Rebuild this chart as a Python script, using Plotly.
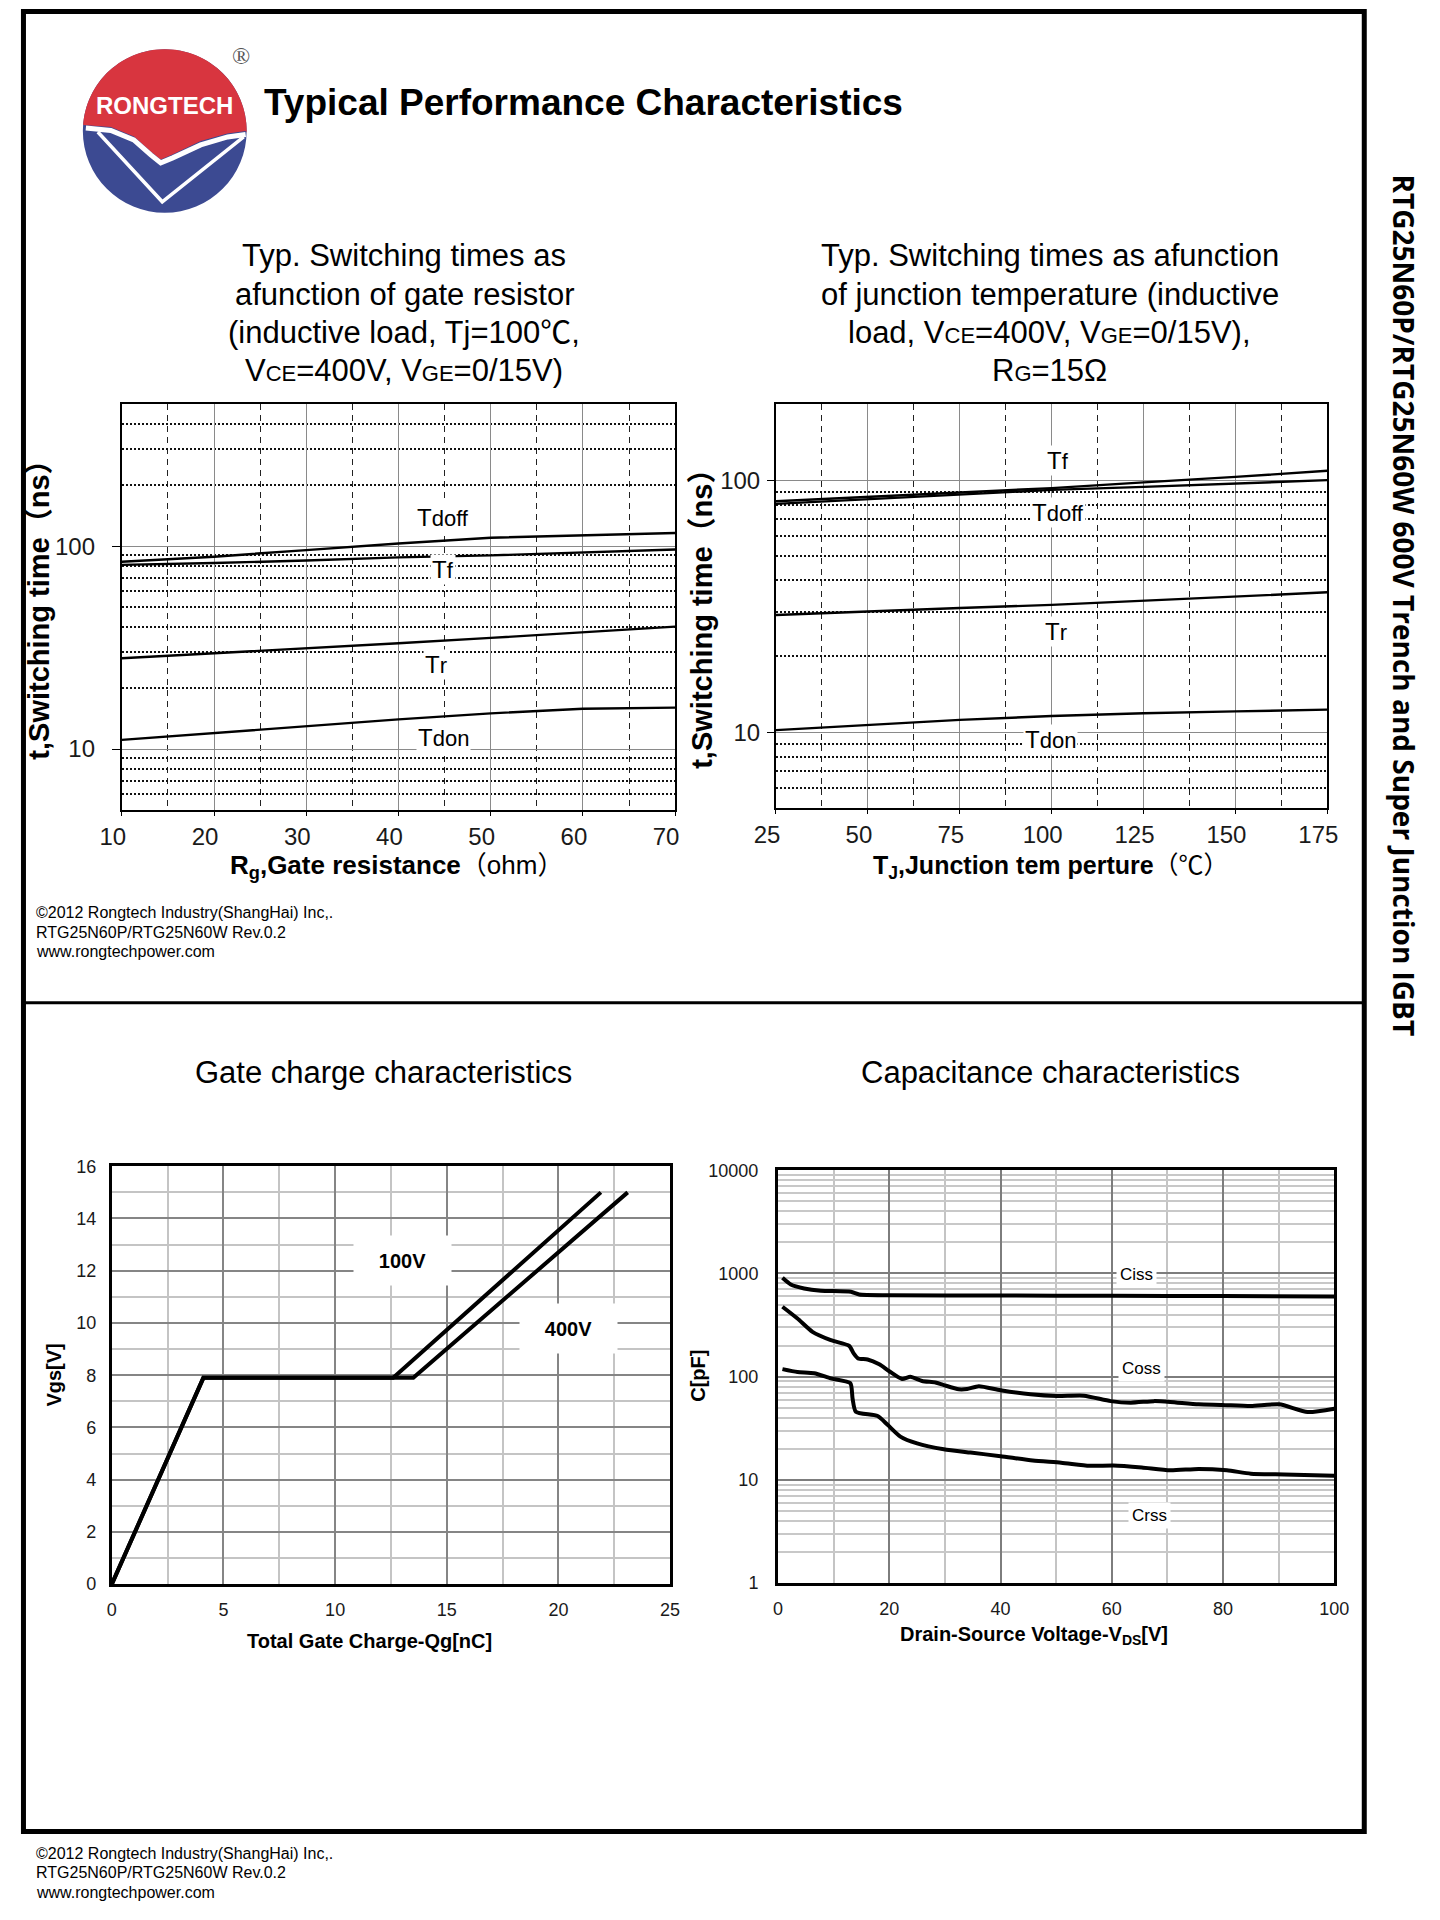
import numpy as np
import plotly.graph_objects as go

W, H = 1440, 1920
# measured mapping between this page and its photograph: compensate it
SX, OX = 1.0251, -21.6
SY, OY = 1.0079, -8.8
FONT = "Liberation Sans, Arial, Noto Sans CJK SC, sans-serif"

# ---------------- data ----------------
# Chart 1: switching times vs gate resistor
rg = [10, 20, 30, 40, 50, 60, 70]
tdoff_rg = [83.8, 88.7, 95.6, 103, 110, 113, 116]
tf_rg = [80.8, 82.5, 85, 88, 90, 93, 96.3]
tr_rg = [28.0, 29.6, 31.3, 33.2, 35.3, 37.6, 40.1]
tdon_rg = [11.1, 12.0, 13.0, 14.0, 15.0, 15.8, 16.0]
rg_ticks = [10, 20, 30, 40, 50, 60, 70]

# Chart 2: switching times vs junction temperature
tj = [25, 50, 75, 100, 125, 150, 175]
tf_tj = [82.5, 86, 89.5, 93, 98, 103, 109]
tdoff_tj = [80.5, 84, 88, 91.5, 94, 97, 100]
tr_tj = [29.2, 30.2, 31.1, 32.0, 33.2, 34.5, 35.9]
tdon_tj = [10.2, 10.7, 11.2, 11.6, 11.9, 12.1, 12.3]
tj_ticks = [25, 50, 75, 100, 125, 150, 175]

# Chart 3: gate charge
qg_100 = [0, 4.1, 12.6, 21.9]
vgs_100 = [0, 7.9, 7.9, 15.0]
qg_400 = [0, 4.1, 13.5, 23.1]
vgs_400 = [0, 7.9, 7.9, 15.0]

# Chart 4: capacitance
vds_ciss = [0.8, 2.3, 4.7, 7.7, 13.1, 14.6, 20, 40, 60, 80, 100]
ciss = [908, 782, 716, 680, 665, 626, 616, 612, 608, 604, 600]
vds_coss = [0.8, 3.5, 6.2, 9.5, 12.8, 13.6, 14.4, 16.1, 18.2, 20, 22.3, 23.8, 25.9, 28.3,
            29.8, 32.5, 34, 36.1, 40, 45.4, 50.2, 55, 59.8, 63.4, 67.6, 70.5, 75.6, 79.8,
            85, 90.1, 95.2, 100]
coss = [476, 366, 272, 226, 199, 168, 150, 147, 132, 113, 95, 100, 91, 88, 83, 75.5, 76, 81,
        74, 67.5, 65, 65.5, 58, 56, 58, 57, 54, 53.3, 52, 54, 45.5, 49]
vds_crss = [0.8, 3.5, 6.5, 9.5, 13, 13.4, 14, 17.9, 19.7, 22, 25, 29.8, 34.6, 40, 45.8, 50.9,
            56, 60.3, 65.4, 70.5, 75.6, 80.7, 85, 91, 100]
crss = [118.5, 111, 108, 96.4, 86.5, 61.7, 45.7, 41.6, 34.2, 26.3, 22.6, 19.8, 18.4, 17.0,
        15.4, 14.7, 13.7, 13.8, 13.2, 12.4, 12.8, 12.4, 11.5, 11.3, 11.0]


def PX(x):
    return min(max((SX * x + OX) / W, 0.0), 1.0)


def PY(y):
    return min(max(1 - (SY * y + OY) / H, 0.0), 1.0)


fig = go.Figure()


def line(x, y, xa, ya, width=2.5, shape="linear"):
    fig.add_trace(go.Scatter(x=x, y=y, mode="lines", xaxis=xa, yaxis=ya,
                             line=dict(color="black", width=width, shape=shape, smoothing=0.6),
                             showlegend=False, hoverinfo="skip"))


for v in (tdoff_rg, tf_rg, tr_rg, tdon_rg):
    line(rg, v, "x", "y", 2.4)
for v in (tf_tj, tdoff_tj, tr_tj, tdon_tj):
    line(tj, v, "x2", "y2", 2.4)
line(qg_100, vgs_100, "x3", "y3", 4)
line(qg_400, vgs_400, "x3", "y3", 4)
line(vds_ciss, ciss, "x4", "y4", 4, "spline")
line(vds_coss, coss, "x4", "y4", 4, "spline")
line(vds_crss, crss, "x4", "y4", 4, "spline")

tickfont_top = dict(family=FONT, size=24, color="#1a1a1a")
tickfont_bot = dict(family=FONT, size=18, color="#1a1a1a")

minor_top_1 = [6, 7, 8, 9, 20, 30, 40, 50, 60, 70, 80, 90, 200, 300, 400]
minor_top_2 = [6, 7, 8, 9, 20, 30, 40, 50, 60, 70, 80, 90]
minor_cap = [m * d for d in (1, 10, 100, 1000) for m in range(2, 10)]

layout = dict(
    width=W, height=H, margin=dict(l=0, r=0, t=0, b=0),
    paper_bgcolor="white", plot_bgcolor="white", showlegend=False,
    font=dict(family=FONT, color="black"),
    # chart 1
    xaxis=dict(domain=[PX(121), PX(675)], range=[10, 70], tickvals=rg_ticks,
               showgrid=True, gridcolor="#8a8a8a", gridwidth=1,
               minor=dict(tickvals=[15, 25, 35, 45, 55, 65], showgrid=True, griddash="6px,5px",
                          gridcolor="#222", gridwidth=1, ticks=""),
               showline=True, mirror=True, linecolor="black", linewidth=2,
               ticks="outside", ticklen=4, tickcolor="black", tickfont=tickfont_top,
               ticklabelstandoff=0, ticklabelshift=-9, anchor="y", zeroline=False),
    yaxis=dict(domain=[PY(811), PY(404)], type="log", range=[np.log10(5), np.log10(500)],
               tickvals=[10, 100], ticktext=["10", "100"],
               showgrid=True, gridcolor="#8a8a8a", gridwidth=1,
               minor=dict(tickvals=minor_top_1, showgrid=True, griddash="2px,2px",
                          gridcolor="#111", gridwidth=1.6, ticks=""),
               showline=True, mirror=True, linecolor="black", linewidth=2,
               ticks="outside", ticklen=8, tickcolor="black", tickfont=tickfont_top,
               ticklabelstandoff=12, anchor="x", zeroline=False),
    # chart 2
    xaxis2=dict(domain=[PX(776), PX(1328)], range=[25, 175], tickvals=tj_ticks,
                showgrid=True, gridcolor="#8a8a8a", gridwidth=1,
                minor=dict(tickvals=[37.5, 62.5, 87.5, 112.5, 137.5, 162.5], showgrid=True,
                           griddash="6px,5px", gridcolor="#222", gridwidth=1, ticks=""),
                showline=True, mirror=True, linecolor="black", linewidth=2,
                ticks="outside", ticklen=4, tickcolor="black", tickfont=tickfont_top,
                ticklabelstandoff=0, ticklabelshift=-9, anchor="y2", zeroline=False),
    yaxis2=dict(domain=[PY(809), PY(404)], type="log", range=[np.log10(5), np.log10(200)],
                tickvals=[10, 100], ticktext=["10", "100"],
                showgrid=True, gridcolor="#8a8a8a", gridwidth=1,
                minor=dict(tickvals=minor_top_2, showgrid=True, griddash="2px,2px",
                           gridcolor="#111", gridwidth=1.6, ticks=""),
                showline=True, mirror=True, linecolor="black", linewidth=2,
                ticks="outside", ticklen=7, tickcolor="black", tickfont=tickfont_top,
                ticklabelstandoff=2, anchor="x2", zeroline=False),
    # chart 3
    xaxis3=dict(domain=[PX(111), PX(670)], range=[0, 25], dtick=5, tick0=0,
                showgrid=True, gridcolor="#858585", gridwidth=2,
                minor=dict(dtick=2.5, tick0=0, showgrid=True, gridcolor="#c4c4c4", gridwidth=2),
                showline=True, mirror=True, linecolor="black", linewidth=3,
                ticks="", tickfont=tickfont_bot, ticklabelstandoff=7, anchor="y3",
                zeroline=False),
    yaxis3=dict(domain=[PY(1587), PY(1168)], range=[0, 16], dtick=2, tick0=0,
                showgrid=True, gridcolor="#858585", gridwidth=2,
                minor=dict(dtick=1, tick0=0, showgrid=True, gridcolor="#c4c4c4", gridwidth=2),
                showline=True, mirror=True, linecolor="black", linewidth=3,
                ticks="", tickfont=tickfont_bot, ticklabelstandoff=9, anchor="x3",
                zeroline=False),
    # chart 4
    xaxis4=dict(domain=[PX(778), PX(1335)], range=[0, 100], dtick=20, tick0=0,
                showgrid=True, gridcolor="#7d7d7d", gridwidth=2,
                minor=dict(dtick=10, tick0=0, showgrid=True, gridcolor="#c4c4c4", gridwidth=2),
                showline=True, mirror=True, linecolor="black", linewidth=3,
                ticks="", tickfont=tickfont_bot, ticklabelstandoff=7, anchor="y4",
                zeroline=False),
    yaxis4=dict(domain=[PY(1586), PY(1172)], type="log", range=[0, 4],
                tickvals=[1, 10, 100, 1000, 10000], ticktext=["1", "10", "100", "1000", "10000"],
                showgrid=True, gridcolor="#7d7d7d", gridwidth=2,
                minor=dict(tickvals=minor_cap, showgrid=True, gridcolor="#c8c8c8", gridwidth=1.5),
                showline=True, mirror=True, linecolor="black", linewidth=3,
                ticks="", tickfont=tickfont_bot, ticklabelstandoff=13, anchor="x4",
                zeroline=False),
)
fig.update_layout(**layout)

ann = []


def txt(x, y, text, size, bold=False, color="black", xanchor="center", angle=0,
        family=FONT, bg=None, w=None, h=None, pad=1):
    a = dict(x=PX(x), y=PY(y), xref="paper", yref="paper", showarrow=False,
             text=f"<b>{text}</b>" if bold else text, xanchor=xanchor, yanchor="middle",
             font=dict(family=family, size=size, color=color), textangle=angle, borderpad=pad)
    if bg:
        a["bgcolor"] = bg
    if w:
        a["width"] = w
    if h:
        a["height"] = h
    ann.append(a)


def sm(t, s):
    return f"<span style='font-size:{s}px'>{t}</span>"


# header
txt(261, 101, "Typical Performance Characteristics", 37, bold=True, xanchor="left")
txt(164, 104, "RONGTECH", 24, bold=True, color="white")
txt(240, 55, "®", 24, color="#555", family="Liberation Serif, DejaVu Serif, serif")

# top chart titles
left_title = ["Typ. Switching times as", "afunction of gate resistor",
              "(inductive load, Tj=100℃,", "V" + sm("CE", 22) + "=400V, V" + sm("GE", 22) + "=0/15V)"]
right_title = ["Typ. Switching times as afunction", "of junction temperature (inductive",
               "load, V" + sm("CE", 22) + "=400V, V" + sm("GE", 22) + "=0/15V),",
               "R" + sm("G", 22) + "=15Ω"]
for i, yy in enumerate([255, 294, 332, 370]):
    txt(404, yy, left_title[i], 31)
    txt(1050, yy, right_title[i], 31)

# top axis titles
txt(38, 603, "t,Switching time（ns）", 29, bold=True, angle=-90)
txt(702, 612, "t,Switching time（ns）", 29, bold=True, angle=-90)
txt(396, 867, "<b>R<sub>g</sub>,Gate resistance</b>（ohm）", 26)
txt(1051, 868, "<b>T<sub>J</sub>,Junction tem perture</b>（℃）", 25)

# curve labels chart 1
txt(443, 518, "T" + sm("doff", 22), 24, bg="white")
txt(443, 570, "T" + sm("f", 22), 24, bg="white")
txt(436, 665, "T" + sm("r", 22), 24, bg="white")
txt(443, 738, "T" + sm("don", 22), 24, bg="white")
# curve labels chart 2
txt(1058, 460, "T" + sm("f", 22), 24, bg="white")
txt(1058, 513, "T" + sm("doff", 22), 24, bg="white")
txt(1056, 632, "T" + sm("r", 22), 24, bg="white")
txt(1051, 740, "T" + sm("don", 22), 24, bg="white")

# footers
for i, s in enumerate(["©2012 Rongtech Industry(ShangHai) Inc,.", "RTG25N60P/RTG25N60W Rev.0.2",
                       "www.rongtechpower.com"]):
    txt(33, 914 + 19.5 * i, s, 16, xanchor="left")
    txt(33, 1857 + 19.5 * i, s, 16, xanchor="left")

# bottom chart titles
txt(383, 1074, "Gate charge characteristics", 31)
txt(1051, 1074, "Capacitance characteristics", 31)

# bottom axis titles
txt(369, 1644, "Total Gate Charge-Qg[nC]", 20, bold=True)
txt(53, 1377, "Vgs[V]", 20, bold=True, angle=-90)
txt(1034, 1638, "Drain-Source Voltage-V<sub>DS</sub>[V]", 20, bold=True)
txt(698, 1378, "C[pF]", 20, bold=True, angle=-90)

# bottom curve labels
txt(402, 1262, "100V", 20, bold=True, bg="white", w=95, h=47)
txt(568, 1331, "400V", 20, bold=True, bg="white", w=95, h=47)
txt(1137, 1277, "Ciss", 17, bg="white", pad=3)
txt(1142, 1371, "Coss", 17, bg="white", pad=3)
txt(1150, 1518, "Crss", 17, bg="white", pad=3)

# side text
txt(1405, 606, "RTG25N60P/RTG25N60W 600V Trench and Super Junction IGBT", 28, bold=True,
    angle=90, family="Open Sans, DejaVu Sans, sans-serif")

fig.update_layout(annotations=ann)

# ---------------- decorative shapes ----------------
shapes = []


def path_from(pts, close=True):
    s = "M " + " L ".join(f"{PX(x):.5f},{PY(y):.5f}" for x, y in pts)
    return s + (" Z" if close else "")


# page frame and divider
shapes.append(dict(type="rect", xref="paper", yref="paper", x0=1.5 / W, x1=PX(1365),
                   y0=1 - 1.5 / H, y1=PY(1835), line=dict(color="black", width=5)))
shapes.append(dict(type="line", xref="paper", yref="paper", x0=0, x1=PX(1365),
                   y0=PY(1004), y1=PY(1004), line=dict(color="black", width=3)))

# logo
cx, cy, r = 164, 130, 82
shapes.append(dict(type="circle", xref="paper", yref="paper", x0=PX(cx - r), x1=PX(cx + r),
                   y0=PY(cy + r), y1=PY(cy - r), fillcolor="#3c4a92", line=dict(width=0)))
wave = [(cx + 81, 130), (226.7, 132.5), (200, 140), (171.7, 153.5), (160, 158.5), (150, 150.5),
        (133.3, 135.5), (110, 126), (cx - 81.5, 124)]
a0, a1 = np.deg2rad(175), np.deg2rad(-1)
th = np.linspace(a0, a1, 60)
arc = [(cx + r * np.cos(t), cy - r * np.sin(t)) for t in th]
shapes.append(dict(type="path", xref="paper", yref="paper", path=path_from(arc + wave),
                   fillcolor="#d8353f", line=dict(width=0)))
band = [(85, 127), (110, 129.5), (133, 139), (150, 154), (160, 162), (172, 157), (200, 144),
        (227, 136), (245, 133.5)]
shapes.append(dict(type="path", xref="paper", yref="paper", path=path_from(band, False),
                   line=dict(color="white", width=5)))
vee = [(97, 131), (161.5, 201), (243, 136)]
shapes.append(dict(type="path", xref="paper", yref="paper", path=path_from(vee, False),
                   line=dict(color="white", width=3.5)))

fig.update_layout(shapes=shapes)

fig.write_html("out.html", config={"displayModeBar": False},
               post_script="document.body.style.margin='0px';")
